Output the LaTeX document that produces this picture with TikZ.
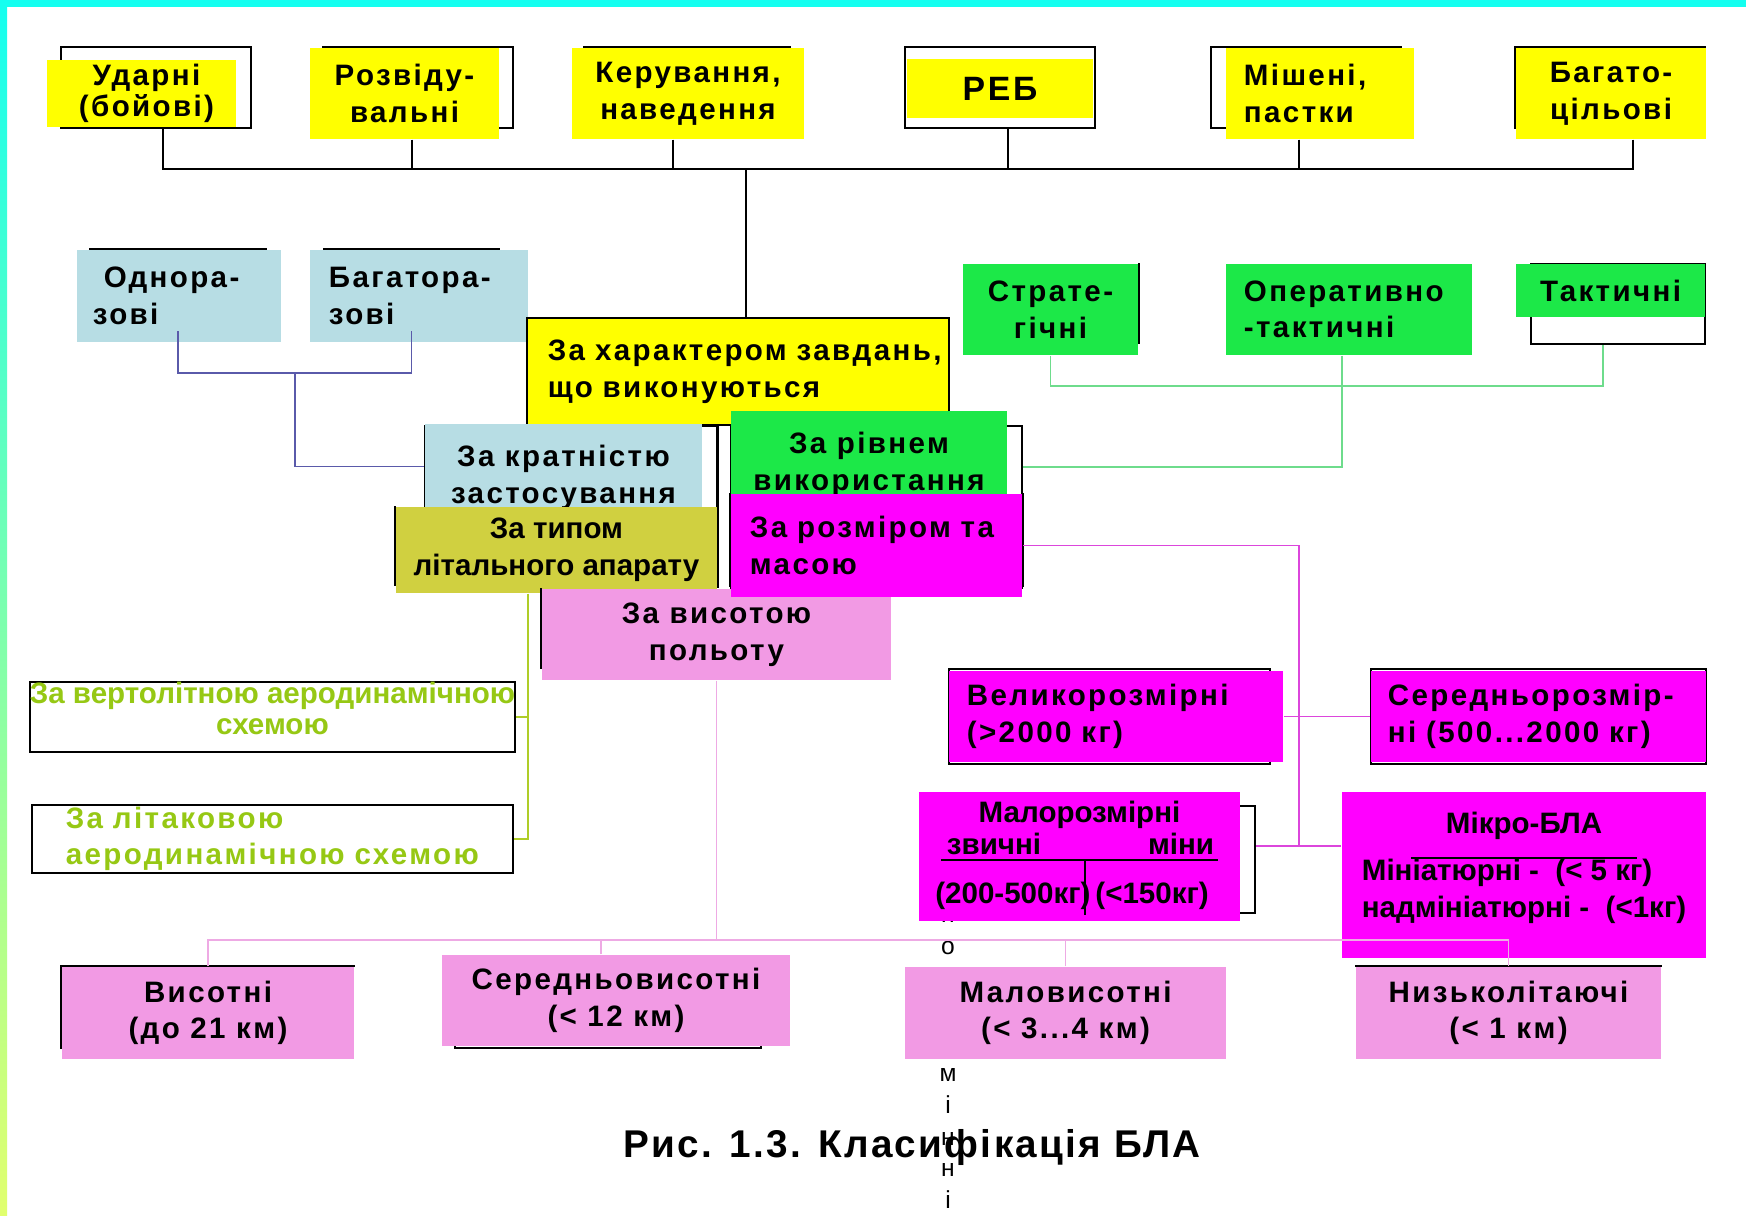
\documentclass[tikz,border=0pt]{standalone}
\usepackage{fontspec}
\setmainfont{Liberation Sans}
\newfontfamily\widefont[LetterSpace=8]{Liberation Sans}
\newfontfamily\capfont[LetterSpace=6]{Liberation Sans}
\usetikzlibrary{calc}

\definecolor{bandcyan}{RGB}{20,255,240}
\definecolor{bandlime}{RGB}{225,255,110}
\definecolor{yel}{RGB}{255,255,0}
\definecolor{ltblue}{RGB}{183,221,228}
\definecolor{olv}{RGB}{208,208,64}
\definecolor{grn}{RGB}{28,232,72}
\definecolor{mag}{RGB}{255,0,255}
\definecolor{pnk}{RGB}{242,154,228}
\definecolor{olvtext}{RGB}{150,200,20}
\definecolor{blueln}{RGB}{90,90,170}
\definecolor{grnln}{RGB}{110,220,140}
\definecolor{magln}{RGB}{220,70,220}
\definecolor{pnkln}{RGB}{238,170,228}
\definecolor{olvln}{RGB}{175,205,40}

\newcommand{\bxfont}{\widefont\fontsize{8.4}{10.4}\selectfont\bfseries}
\newcommand{\nbxfont}{\fontsize{8.4}{10.4}\selectfont\bfseries}

\tikzset{
  frm/.style={draw, line width=0.6pt, inner sep=0pt},
  bx/.style={inner sep=0pt, align=center, font=\bxfont},
  nbx/.style={bx, font=\nbxfont},
  ln/.style={line width=0.6pt},
  cl/.style={line width=0.5pt},
}

\begin{document}
\begin{tikzpicture}[x=0.01cm, y=-0.01cm]
\useasboundingbox (0,0) rectangle (1746,1215);
\fill[white] (0,0) rectangle (1746,1215);
\fill[bandcyan] (0,0) rectangle (1746,7);
\shade[top color=bandcyan, bottom color=bandlime] (0,0) rectangle (7,1215);

% stray letters and caption
\node[font=\fontsize{7}{9.05}\selectfont, align=center, inner sep=0pt] (stray) at (948,1059) {н\\о\\[27.15pt]м\\і\\н\\н\\і};
\node[font=\capfont\fontsize{11}{13}\selectfont\bfseries] (cap) at (912,1147) {Рис. 1.3. Класифікація БЛА};

% top row
\node[frm, minimum width=1.9cm, minimum height=0.81cm] (udarF) at (156,87.5) {};
\node[bx, fill=yel, minimum width=1.89cm, minimum height=0.67cm, font=\widefont\fontsize{8.4}{6.6}\selectfont\bfseries] (udar) at (141.5,93.5) {\hspace*{0.1cm}Ударні\\\hspace*{0.1cm}(бойові)};
\node[frm, minimum width=1.9cm, minimum height=0.81cm] (rozvF) at (418,87.5) {};
\node[bx, fill=yel, minimum width=1.89cm, minimum height=0.91cm] (rozv) at (404.5,93.5) {Розвіду-\\вальні};
\node[frm, minimum width=2.06cm, minimum height=0.81cm] (kerF) at (687,87.5) {};
\node[bx, fill=yel, minimum width=2.32cm, minimum height=0.91cm] (ker) at (688,93.5) {Керування,\\наведення};
\node[frm, minimum width=1.9cm, minimum height=0.81cm] (rebF) at (1000,87.5) {};
\node[bx, fill=yel, minimum width=1.86cm, minimum height=0.59cm, font=\widefont\fontsize{9.6}{11}\selectfont\bfseries] (reb) at (1000,88.5) {РЕБ};
\node[frm, minimum width=1.9cm, minimum height=0.81cm] (mishF) at (1306,87.5) {};
\node[bx, fill=yel, minimum width=1.88cm, minimum height=0.91cm, text width=1.52cm, align=left] (mish) at (1320,93.5) {Мішені,\\пастки};
\node[frm, minimum width=1.9cm, minimum height=0.81cm] (bagF) at (1610,87.5) {};
\node[bx, fill=yel, minimum width=1.9cm, minimum height=0.91cm] (bag) at (1611,93.5) {Багато-\\цільові};

\coordinate (topJ) at (746,169);
\draw[ln] ([xshift=0.07cm]udarF.south) |- (topJ);
\draw[ln] ([xshift=0.075cm]rozv.south) |- (topJ);
\draw[ln] ([xshift=-0.15cm]ker.south) |- (topJ);
\draw[ln] ([xshift=0.08cm]rebF.south) |- (topJ);
\draw[ln] ([xshift=-0.21cm]mish.south) |- (topJ);
\draw[ln] ([xshift=0.22cm]bag.south) |- (topJ);

% left pair
\node[frm, minimum width=1.76cm, minimum height=0.81cm] (odnoF) at (178,289.5) {};
\node[bx, fill=ltblue, minimum width=2.04cm, minimum height=0.92cm, text width=1.72cm, align=left] (odno) at (179,296) {\hspace*{0.11cm}Однора-\\зові};
\node[frm, minimum width=1.75cm, minimum height=0.81cm] (bagrF) at (411.5,289.5) {};
\node[bx, fill=ltblue, minimum width=2.18cm, minimum height=0.92cm, text width=1.8cm, align=left] (bagr) at (419,296) {Багатора-\\зові};

% middle group
\node[bx, fill=yel, draw, line width=0.6pt, minimum width=4.22cm, minimum height=1.07cm, text width=3.8cm, align=left] (khar) at (738,371.5) {\mbox{За характером завдань,}\\\mbox{що виконуються}};
\node[frm, minimum width=2.92cm, minimum height=1.61cm] (kratF) at (571,506.5) {};
\node[bx, fill=ltblue, minimum width=2.77cm, minimum height=0.81cm] (krat) at (563.5,466.5) {\rule{0pt}{12.2pt}За кратністю\\застосування};
\node[nbx, fill=olv, minimum width=3.21cm, minimum height=0.86cm] (tip) at (556.5,550) {За типом\\літального апарату};
\node[frm, minimum width=2.91cm, minimum height=1.62cm] (rivF) at (876.5,507) {};
\node[bx, fill=grn, minimum width=2.76cm, minimum height=0.81cm] (riv) at (869,453.5) {\rule{0pt}{12.2pt}За рівнем\\використання};
\node[bx, fill=pnk, minimum width=3.49cm, minimum height=0.91cm] (vys) at (716.5,634.5) {За висотою\\польоту};
\node[bx, fill=mag, minimum width=2.91cm, minimum height=1.03cm, text width=2.53cm, align=left] (roz) at (876.5,545.5) {\mbox{За розміром та}\\масою};
\draw[ln] (kratF.north east) -- (kratF.south east);
\draw[ln] (tip.north west) -- ++(0,80);
\draw[ln] (roz.north west) -- ++(0,94);
\draw[ln] (roz.north east) -- ++(0,94);
\draw[ln] (vys.north west) -- ++(0,81);

% green group
\node[bx, fill=grn, minimum width=1.75cm, minimum height=0.91cm] (strat) at (1050.5,309.5) {Страте-\\гічні};
\draw[ln] (strat.north east) -- ++(0,81);
\node[bx, fill=grn, minimum width=2.46cm, minimum height=0.91cm, text width=2.1cm, align=left] (oper) at (1349,309.5) {Оперативно\\-тактичні};
\node[frm, minimum width=1.74cm, minimum height=0.80cm] (taktF) at (1618,304) {};
\node[bx, fill=grn, minimum width=1.89cm, minimum height=0.53cm] (takt) at (1610.5,290.5) {Тактичні};

% size and mass
\node[frm, minimum width=3.21cm, minimum height=0.95cm] (velF) at (1109.5,716.5) {};
\node[bx, fill=mag, minimum width=3.34cm, minimum height=0.91cm, text width=2.98cm, align=left] (vel) at (1116,716.5) {Великорозмірні\\\mbox{(>2000 кг)}};
\node[frm, minimum width=3.35cm, minimum height=0.95cm] (serF) at (1538.5,716.5) {};
\node[bx, fill=mag, minimum width=3.35cm, minimum height=0.91cm, text width=3.01cm, align=left] (ser) at (1538.5,716.5) {Середньорозмір-\\\mbox{ні (500...2000 кг)}};
\node[frm, minimum width=3.25cm, minimum height=1.07cm] (maloF) at (1092.5,859.5) {};
\node[nbx, fill=mag, minimum width=3.21cm, minimum height=1.29cm] (malo) at (1079.5,856.5) {\def\arraystretch{0.3}\setlength\arrayrulewidth{0.6pt}%
  \begin{tabular}{@{}c@{}|@{}c@{}}
  \multicolumn{2}{@{}c@{}}{\rule[-2pt]{0pt}{9pt}Малорозмірні}\\
  \multicolumn{1}{@{}l@{}}{\rule[-1.1pt]{0pt}{8.2pt}\makebox[1.44cm][l]{\hspace{0.06cm}звичні}} & \makebox[1.32cm][r]{міни\hspace{0.04cm}}\\ \hline
  \rule[-3.1pt]{0pt}{15.3pt}\makebox[1.44cm]{(200-500кг)} & \makebox[1.32cm]{(<150кг)}
  \end{tabular}};
\node[nbx, fill=mag, minimum width=3.64cm, minimum height=1.66cm] (mikro) at (1524,875) {\begin{tabular}{@{}l@{}}
  \multicolumn{1}{@{}c@{}}{Мікро-БЛА}\\[3pt]
  Мініатюрні -\ \ (< 5 кг)\\
  надмініатюрні -\ \ (<1кг)\rule[-7pt]{0pt}{0pt}
  \end{tabular}};
\draw[line width=0.4pt] ([shift={(-113,-17)}]mikro.center) -- ++(226,0);

% altitude
\node[bx, fill=pnk, minimum width=2.92cm, minimum height=0.92cm] (vis) at (208,1013) {Висотні\\(до 21 км)};
\draw[ln] ([yshift=0.11cm]vis.south west) |- (vis.north east);
\node[frm, minimum width=3.06cm, minimum height=0.88cm] (ser2F) at (608,1004) {};
\node[bx, fill=pnk, minimum width=3.48cm, minimum height=0.91cm] (ser2) at (616,1000.5) {Середньовисотні\\(< 12 км)};
\node[bx, fill=pnk, minimum width=3.21cm, minimum height=0.92cm] (malv) at (1065.5,1013) {Маловисотні\\(< 3...4 км)};
\node[bx, fill=pnk, minimum width=3.05cm, minimum height=0.92cm] (niz) at (1508.5,1013) {Низьколітаючі\\(< 1 км)};
\draw[ln] (niz.north west) -- (niz.north east);

% aircraft type
\node[frm, nbx, text=olvtext, minimum width=4.81cm, minimum height=0.70cm, font=\fontsize{8.4}{9}\selectfont\bfseries] (vert) at (272.5,717) {За вертолітною аеродинамічною\\схемою\rule[-5pt]{0pt}{0pt}};
\node[frm, bx, text=olvtext, minimum width=4.81cm, minimum height=0.68cm, text width=4.13cm, align=left] (lit) at (272.5,839) {За літаковою\\\mbox{аеродинамічною схемою}};

% connectors
\draw[ln] (topJ) -- (topJ |- khar.north);
\draw[cl, blueln] (odnoF.south) -- ++(0,42) -| (bagrF.south);
\draw[cl, blueln] ($(odnoF.south)!0.5!(bagrF.south)+(0,42)$) |- (krat.west);
\draw[cl, grnln] (strat.south) -- ++(0,30) -| ([xshift=-0.15cm]taktF.south);
\draw[cl, grnln] ([xshift=-0.07cm]oper.south) |- ([yshift=0.4cm]rivF.east);
\coordinate (mgX) at (1299,846);
\draw[cl, magln] (roz.east) -| (mgX);
\draw[cl, magln] (vel.east) -- (ser.west);
\draw[cl, magln] (maloF.east |- mgX) -- (mikro.west |- mgX);
\draw[cl, olvln] ([xshift=-0.285cm]tip.south) |- (lit.east);
\draw[cl, olvln] (vert.east) -| ([xshift=-0.285cm]tip.south);
\draw[cl, pnkln] (vys.south) -- ++(0,259) coordinate (pkJ);
\draw[cl, pnkln] (vis.north) |- (pkJ) -| (niz.north);
\draw[cl, pnkln] ([xshift=-0.15cm]ser2.north) |- (pkJ);
\draw[cl, pnkln] (malv.north) |- (pkJ);

\end{tikzpicture}
\end{document}
